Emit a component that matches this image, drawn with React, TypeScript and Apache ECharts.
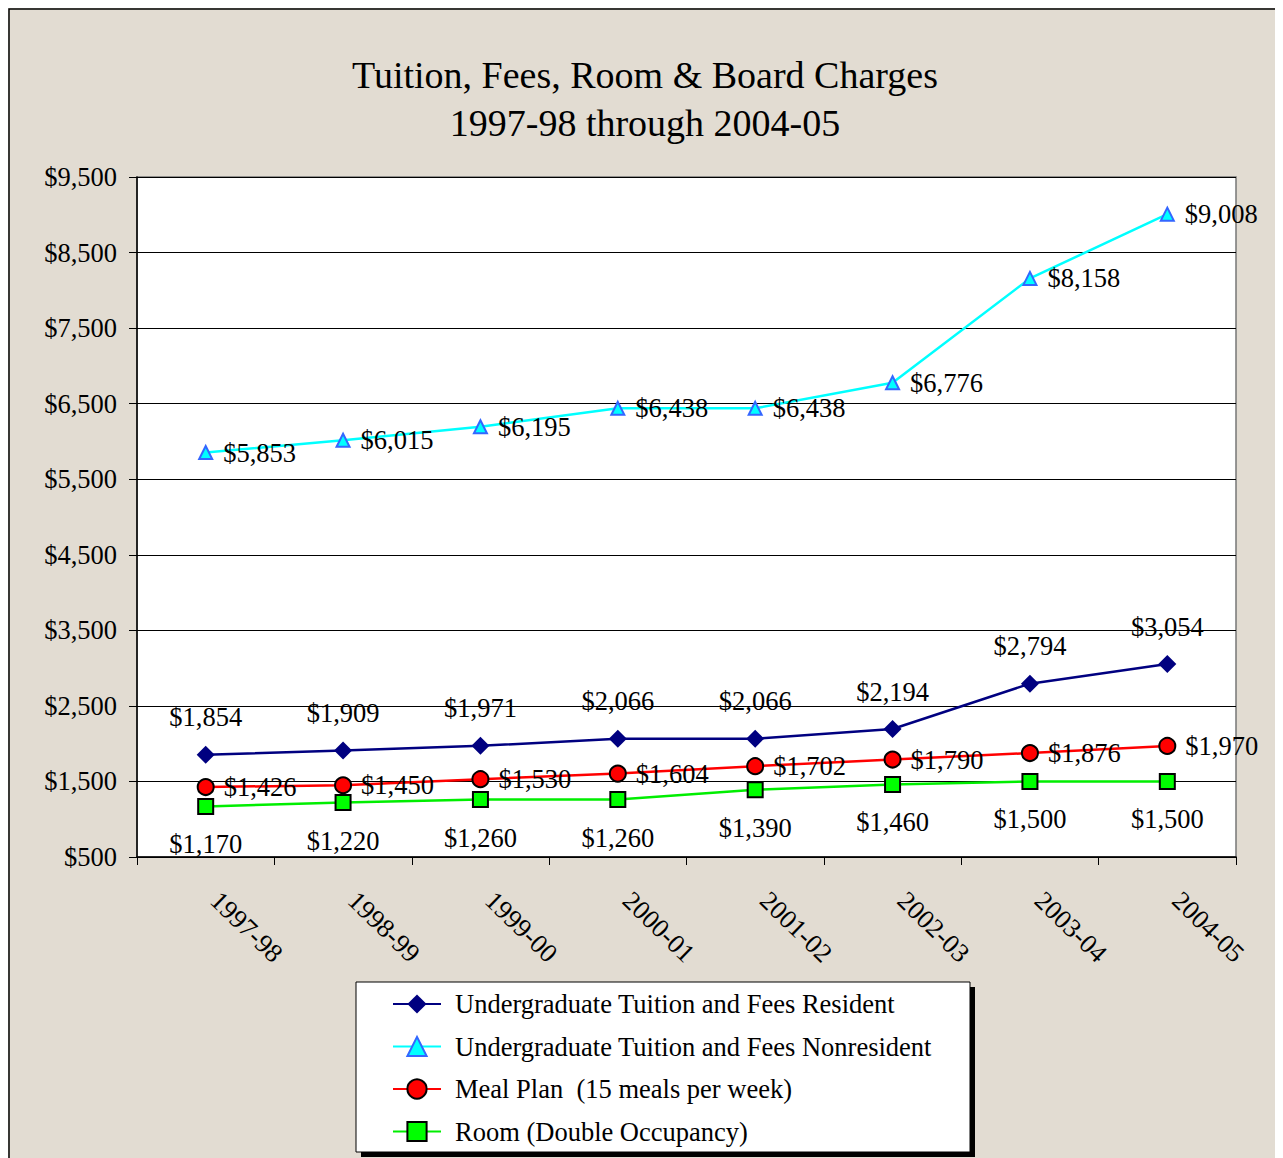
import React, { useEffect, useRef } from "react";
import * as echarts from "echarts";

const categories = ["1997-98", "1998-99", "1999-00", "2000-01", "2001-02", "2002-03", "2003-04", "2004-05"];
const resident = [1854, 1909, 1971, 2066, 2066, 2194, 2794, 3054];
const nonresident = [5853, 6015, 6195, 6438, 6438, 6776, 8158, 9008];
const mealPlan = [1426, 1450, 1530, 1604, 1702, 1790, 1876, 1970];
const room = [1170, 1220, 1260, 1260, 1390, 1460, 1500, 1500];
const seriesNames = [
  "Undergraduate Tuition and Fees Resident",
  "Undergraduate Tuition and Fees Nonresident",
  "Meal Plan  (15 meals per week)",
  "Room (Double Occupancy)",
];
const titleLines = ["Tuition, Fees, Room & Board Charges", "1997-98 through 2004-05"];

const FONT = "'Liberation Serif', 'Times New Roman', serif";
const FS = 26.5;
const money = (v: number) => "$" + Number(v).toLocaleString("en-US");

export default function App() {
  const ref = useRef<HTMLDivElement>(null);
  useEffect(() => {
    document.body.style.overflow = "hidden";
    document.documentElement.style.overflow = "hidden";
    const chart = echarts.init(ref.current!, null, { renderer: "svg" });
    const labelBase = { show: true, color: "#000", fontFamily: FONT, fontSize: FS, formatter: (p: any) => money(p.value) };
    chart.setOption({
      animation: false,
      backgroundColor: "#e2dcd2",
      textStyle: { fontFamily: FONT },
      title: {
        text: titleLines.join("\n"),
        left: 632,
        textAlign: "center",
        top: 38,
        textStyle: { fontFamily: FONT, fontSize: 38, fontWeight: "normal", color: "#000", lineHeight: 48 },
      },
      graphic: [
        { type: "rect", z: 0, shape: { x: 1, y: 1, width: 2000, height: 2000 }, style: { fill: "none", stroke: "#000", lineWidth: 1.5 } },
        { type: "rect", z: 0, shape: { x: 353, y: 979, width: 614, height: 170 }, style: { fill: "#000" } },
        { type: "rect", z: 0, shape: { x: 348, y: 974, width: 614, height: 170 }, style: { fill: "#fff", stroke: "#000", lineWidth: 1 } },
      ],
      legend: {
        z: 10,
        orient: "vertical",
        left: 384,
        top: 981,
        padding: 0,
        itemWidth: 48,
        itemHeight: 24,
        itemGap: 12.5,
        data: seriesNames,
        textStyle: { fontFamily: FONT, fontSize: FS, color: "#000", lineHeight: 30, padding: [0, 0, 0, 9] },
      },
      grid: {
        left: 129,
        top: 169,
        width: 1099,
        height: 680,
        show: true,
        backgroundColor: "#fff",
        borderColor: "#777",
        borderWidth: 1.5,
      },
      xAxis: {
        type: "category",
        data: categories,
        boundaryGap: true,
        axisLine: { lineStyle: { color: "#000", width: 1.5 } },
        axisTick: { show: true, length: 8, lineStyle: { color: "#000" } },
        axisLabel: { rotate: -44, margin: 30, padding: [0, 0, 0, 13], color: "#000", fontFamily: FONT, fontSize: FS },
      },
      yAxis: {
        type: "value",
        min: 500,
        max: 9500,
        interval: 1000,
        axisLine: { show: true, lineStyle: { color: "#000", width: 1.5 } },
        axisTick: { show: true, length: 8, lineStyle: { color: "#000" } },
        splitLine: { lineStyle: { color: "#000", width: 1 } },
        axisLabel: { margin: 20, color: "#000", fontFamily: FONT, fontSize: FS, formatter: money },
      },
      series: [
        {
          name: seriesNames[0],
          type: "line",
          data: resident,
          symbol: "diamond",
          symbolSize: 18,
          lineStyle: { color: "#000080", width: 2.5 },
          itemStyle: { color: "#000080" },
          label: { ...labelBase, position: "top", distance: 15 },
          z: 4,
        },
        {
          name: seriesNames[1],
          type: "line",
          data: nonresident,
          symbol: "triangle",
          symbolSize: 13,
          lineStyle: { color: "#00ffff", width: 2.5 },
          itemStyle: { color: "#00ffff", borderColor: "#3366ff", borderWidth: 2 },
          label: { ...labelBase, position: "right", distance: 10 },
          z: 4,
        },
        {
          name: seriesNames[2],
          type: "line",
          data: mealPlan,
          symbol: "circle",
          symbolSize: 16,
          lineStyle: { color: "#ff0000", width: 2.5 },
          itemStyle: { color: "#ff0000", borderColor: "#000", borderWidth: 2 },
          label: { ...labelBase, position: "right", distance: 9 },
          z: 4,
        },
        {
          name: seriesNames[3],
          type: "line",
          data: room,
          symbol: "rect",
          symbolSize: 15,
          lineStyle: { color: "#00ee00", width: 2.5 },
          itemStyle: { color: "#00ff00", borderColor: "#000", borderWidth: 2 },
          label: { ...labelBase, position: "bottom", distance: 16 },
          z: 4,
        },
      ],
    });
    return () => chart.dispose();
  }, []);
  return <div ref={ref} style={{ width: 1275, height: 1150 }} />;
}
